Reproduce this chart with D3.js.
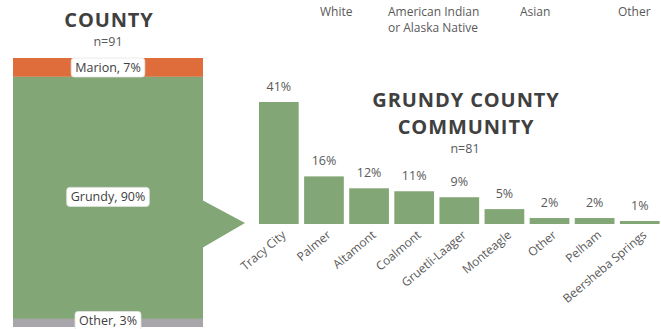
<!DOCTYPE html>
<html>
<head>
<meta charset="utf-8">
<script src="https://cdn.jsdelivr.net/npm/d3@7"></script>
<style>
  html, body { margin: 0; padding: 0; background: #fff; }
  svg { display: block; font-family: "Open Sans", sans-serif; }
</style>
</head>
<body>
<svg id="chart" width="661" height="329"></svg>
<script>
// County split (stacked column, left)
const countyNames = ["Marion", "Grundy", "Other"];
const countyPcts = [7, 90, 3];
const countyColors = ["#df6c3b", "#83a676", "#a9a6ab"];

// Community breakdown within Grundy County (columns, right)
const communities = ["Tracy City", "Palmer", "Altamont", "Coalmont", "Gruetli-Laager",
                     "Monteagle", "Other", "Pelham", "Beersheba Springs"];
const communityPcts = [41, 16, 12, 11, 9, 5, 2, 2, 1];

// Legend entries along the top
const legendLabels = [["White"], ["American Indian", "or Alaska Native"], ["Asian"], ["Other"]];

const svg = d3.select("#chart");
const green = "#83a676";
const textDark = "#404040";
const textMid = "#595959";

// ---- Left: stacked county column ----
const colX0 = 13, colX1 = 203;
const yStack = d3.scaleLinear().domain([0, 100]).range([58, 327]);
const stacked = [];
let acc = 0;
countyPcts.forEach((v, i) => { stacked.push({ name: countyNames[i], v, y0: acc, y1: acc + v, color: countyColors[i] }); acc += v; });

svg.append("g").selectAll("rect").data(stacked).join("rect")
  .attr("x", colX0).attr("width", colX1 - colX0)
  .attr("y", d => yStack(d.y0)).attr("height", d => yStack(d.y1) - yStack(d.y0))
  .attr("fill", d => d.color);

// Pointer from the Grundy segment toward the community chart
svg.append("path")
  .attr("d", `M${colX1 - 1},200 L245,223 L${colX1 - 1},248 Z`)
  .attr("fill", green);

// Segment labels in white rounded boxes
const labelG = svg.append("g");
stacked.forEach(d => {
  const cy = d.name === "Other" ? 321 : (d.name === "Marion" ? 67.5 : (yStack(d.y0) + yStack(d.y1)) / 2 - 1);
  const g = labelG.append("g");
  const t = g.append("text")
    .attr("x", (colX0 + colX1) / 2).attr("y", cy).attr("dy", "0.35em")
    .attr("text-anchor", "middle").attr("font-size", 12.5).attr("fill", textDark)
    .text(`${d.name}, ${d.v}%`);
  const bb = t.node().getBBox();
  g.insert("rect", "text")
    .attr("x", bb.x - 4).attr("y", cy - 9.5).attr("width", bb.width + 8).attr("height", 19)
    .attr("rx", 3).attr("fill", "#fff").attr("stroke", "#e4e4e4").attr("stroke-width", 0.8);
});

// Left titles
svg.append("text").attr("x", 109).attr("y", 26.5).attr("text-anchor", "middle")
  .attr("font-size", 20).attr("font-weight", 700).attr("letter-spacing", 0.9)
  .attr("fill", textDark).text("COUNTY");
svg.append("text").attr("x", 108).attr("y", 45.5).attr("text-anchor", "middle")
  .attr("font-size", 12.5).attr("fill", textMid).text("n=91");

// ---- Right: community columns ----
const x = d3.scaleBand().domain(communities).range([256.3, 662.3])
  .paddingInner(0.12).paddingOuter(0.06);
const y = d3.scaleLinear().domain([0, 45]).range([224, 224 - 45 * 2.976]);

svg.append("g").selectAll("rect").data(communities).join("rect")
  .attr("x", d => x(d)).attr("width", x.bandwidth())
  .attr("y", (d, i) => y(communityPcts[i]))
  .attr("height", (d, i) => y(0) - y(communityPcts[i]))
  .attr("fill", green);

svg.append("g").selectAll("text").data(communities).join("text")
  .attr("x", d => x(d) + x.bandwidth() / 2)
  .attr("y", (d, i) => y(communityPcts[i]) - 11)
  .attr("text-anchor", "middle").attr("font-size", 12.5).attr("fill", textMid)
  .text((d, i) => communityPcts[i] + "%");

// Rotated category axis
const xAxis = svg.append("g").attr("transform", "translate(0,224)")
  .call(d3.axisBottom(x).tickSize(0).tickPadding(0));
xAxis.select(".domain").remove();
xAxis.selectAll("text")
  .attr("font-family", "'Open Sans', sans-serif").attr("font-size", 12).attr("fill", textMid)
  .attr("text-anchor", "end")
  .attr("transform", "translate(5,9) rotate(-40)")
  .attr("x", 0).attr("y", 0).attr("dy", "0.35em");

// Right titles
svg.append("text").attr("x", 466).attr("y", 106.5).attr("text-anchor", "middle")
  .attr("font-size", 20).attr("font-weight", 700).attr("letter-spacing", 0.9)
  .attr("fill", textDark).text("GRUNDY COUNTY");
svg.append("text").attr("x", 466).attr("y", 134).attr("text-anchor", "middle")
  .attr("font-size", 20).attr("font-weight", 700).attr("letter-spacing", 0.9)
  .attr("fill", textDark).text("COMMUNITY");
svg.append("text").attr("x", 465).attr("y", 153).attr("text-anchor", "middle")
  .attr("font-size", 12.5).attr("fill", textMid).text("n=81");

// ---- Legend ----
const legendX = [320, 388, 520, 618];
legendLabels.forEach((lines, i) => {
  lines.forEach((ln, j) => svg.append("text")
    .attr("x", legendX[i]).attr("y", 15.5 + j * 16.5)
    .attr("font-size", 12).attr("fill", textMid).text(ln));
});
</script>
</body>
</html>
